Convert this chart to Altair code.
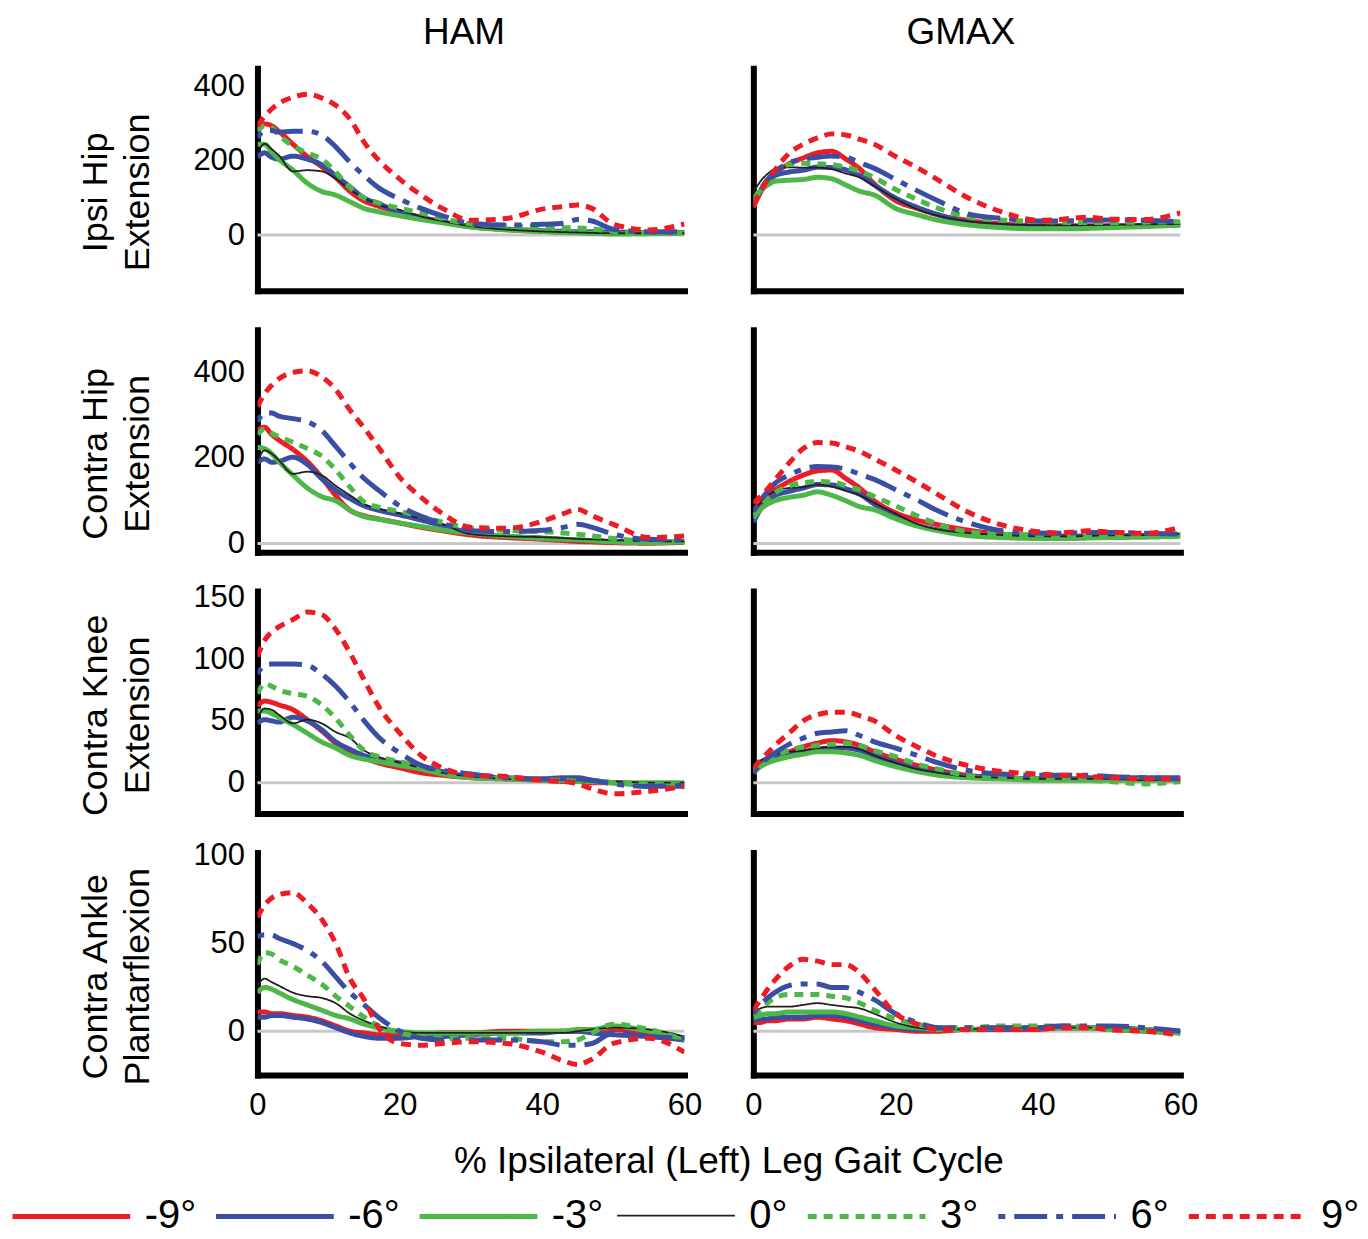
import altair as alt
import pandas as pd

# ---------------- data ----------------
X_PCT = [0, 1, 2, 3, 5, 7, 9, 11, 13, 15, 17, 20, 23, 26, 30, 35, 40, 43, 45, 47, 50, 55, 60]
ANGLES = ["-9°", "-6°", "-3°", "0°", "3°", "6°", "9°"]

ham_ipsi_hip = {
    "-9°": [285, 300, 295, 280, 245, 212, 185, 155, 118, 92, 78, 62, 48, 35, 24, 15, 10, 8, 7, 6, 5, 5, 7],
    "-6°": [210, 222, 210, 205, 213, 205, 190, 160, 130, 100, 85, 62, 48, 36, 22, 16, 12, 10, 9, 9, 8, 7, 7],
    "-3°": [245, 245, 225, 205, 175, 140, 118, 108, 90, 72, 63, 52, 42, 33, 22, 14, 10, 7, 6, 5, 3, 4, 6],
    "0°":  [220, 246, 232, 215, 172, 175, 172, 152, 122, 100, 82, 68, 50, 38, 24, 15, 10, 8, 7, 6, 5, 5, 5],
    "3°":  [280, 295, 290, 270, 240, 222, 205, 170, 128, 100, 87, 72, 60, 45, 30, 25, 22, 20, 19, 17, 10, 6, 5],
    "6°":  [262, 282, 282, 278, 280, 280, 270, 238, 196, 160, 128, 97, 72, 52, 32, 27, 29, 32, 42, 38, 16, 9, 9],
    "9°":  [295, 320, 340, 355, 372, 380, 370, 350, 313, 250, 203, 151, 108, 72, 40, 45, 70, 77, 81, 72, 30, 14, 30],
}
gmax_ipsi_hip = {
    "-9°": [75, 115, 145, 165, 192, 208, 222, 226, 205, 178, 138, 93, 72, 54, 40, 30, 25, 25, 25, 25, 25, 26, 28],
    "-6°": [85, 120, 145, 160, 170, 175, 183, 182, 176, 160, 135, 100, 75, 55, 35, 26, 23, 22, 22, 22, 23, 25, 28],
    "-3°": [90, 120, 135, 145, 148, 150, 156, 152, 135, 118, 108, 72, 55, 40, 28, 20, 17, 17, 17, 18, 20, 23, 27],
    "0°":  [115, 145, 165, 178, 183, 182, 182, 178, 166, 155, 132, 98, 70, 52, 38, 30, 27, 27, 27, 27, 28, 29, 30],
    "3°":  [95, 125, 150, 170, 190, 194, 192, 190, 183, 172, 155, 123, 96, 72, 50, 40, 37, 35, 34, 34, 34, 35, 36],
    "6°":  [85, 120, 150, 170, 195, 205, 210, 213, 210, 195, 180, 150, 120, 92, 58, 45, 38, 38, 39, 40, 41, 40, 36],
    "9°":  [85, 115, 150, 175, 220, 245, 262, 273, 270, 258, 245, 212, 182, 148, 102, 62, 40, 42, 46, 48, 43, 42, 60],
}
ham_contra_hip = {
    "-9°": [265, 272, 255, 242, 220, 192, 155, 112, 78, 65, 58, 48, 38, 30, 20, 14, 10, 7, 5, 4, 2, 1, 3],
    "-6°": [190, 198, 190, 192, 202, 185, 152, 125, 105, 88, 78, 67, 55, 42, 25, 17, 13, 10, 8, 7, 5, 4, 5],
    "-3°": [225, 222, 210, 192, 160, 130, 110, 100, 78, 63, 57, 48, 40, 32, 24, 17, 12, 10, 9, 7, 4, 2, 4],
    "0°":  [190, 218, 210, 195, 163, 168, 160, 135, 113, 92, 82, 71, 58, 45, 22, 17, 15, 13, 11, 10, 8, 6, 5],
    "3°":  [255, 268, 258, 250, 237, 222, 205, 172, 132, 97, 85, 75, 63, 50, 36, 31, 28, 25, 22, 18, 12, 6, 5],
    "6°":  [285, 305, 305, 298, 292, 285, 265, 227, 188, 152, 125, 88, 64, 47, 30, 28, 31, 38, 45, 38, 22, 10, 8],
    "9°":  [320, 350, 370, 385, 400, 404, 390, 360, 312, 270, 225, 155, 108, 70, 38, 36, 52, 70, 80, 65, 45, 14, 18],
}
gmax_contra_hip = {
    "-9°": [70, 95, 112, 125, 145, 160, 170, 172, 152, 129, 100, 72, 55, 44, 32, 22, 19, 18, 18, 18, 18, 19, 20],
    "-6°": [50, 80, 100, 112, 122, 130, 138, 137, 128, 115, 92, 63, 43, 32, 22, 17, 16, 16, 16, 17, 17, 18, 20],
    "-3°": [60, 80, 92, 100, 108, 113, 121, 113, 100, 86, 79, 58, 41, 30, 19, 14, 12, 12, 12, 13, 14, 15, 17],
    "0°":  [75, 95, 112, 122, 130, 132, 138, 133, 123, 112, 95, 70, 46, 33, 25, 20, 17, 17, 17, 18, 19, 20, 22],
    "3°":  [65, 85, 105, 118, 135, 142, 145, 144, 135, 125, 110, 88, 65, 45, 28, 22, 20, 18, 17, 17, 17, 18, 20],
    "6°":  [75, 100, 122, 140, 160, 174, 180, 179, 174, 162, 150, 126, 102, 76, 50, 30, 25, 24, 25, 26, 26, 24, 22],
    "9°":  [95, 110, 128, 148, 188, 222, 236, 235, 226, 215, 198, 172, 144, 114, 75, 43, 28, 25, 27, 30, 27, 24, 38],
}
ham_contra_knee = {
    "-9°": [62, 66, 65, 63, 59, 51, 42, 32, 25, 20, 16, 12, 8, 6, 4, 3, 2, 1, 1, 0, 0, -1, -1],
    "-6°": [48, 51, 50, 49, 53, 50, 43, 33, 27, 22, 19, 16, 12, 9, 5, 4, 3, 4, 4, 2, 0, -2, -3],
    "-3°": [58, 58, 56, 53, 47, 40, 33, 28, 22, 19, 17, 14, 11, 7, 4, 3, 2, 2, 1, 1, 0, 0, 0],
    "0°":  [52, 60, 59, 55, 48, 51, 48, 41, 36, 26, 21, 16, 12, 8, 5, 3, 2, 2, 1, 1, 1, 0, 0],
    "3°":  [72, 80, 78, 75, 72, 70, 63, 52, 38, 26, 21, 17, 12, 8, 5, 4, 3, 2, 2, 1, 0, -1, -1],
    "6°":  [88, 95, 96, 96, 96, 95, 88, 78, 65, 50, 37, 24, 14, 10, 7, 4, 3, 3, 3, 2, -1, -3, -2],
    "9°":  [102, 115, 122, 126, 132, 138, 136, 124, 105, 83, 62, 40, 22, 12, 6, 5, 2, 1, -1, -5, -9, -7, -3],
}
gmax_contra_knee = {
    "-9°": [10, 15, 19, 22, 25, 29, 32, 34, 33, 30, 25, 19, 14, 10, 6, 4, 3, 3, 3, 3, 3, 3, 3],
    "-6°": [8, 14, 18, 21, 23, 25, 27, 28, 28, 26, 22, 16, 11, 8, 5, 4, 3, 3, 3, 4, 4, 4, 4],
    "-3°": [8, 13, 16, 18, 21, 23, 25, 25, 24, 22, 18, 13, 9, 6, 4, 3, 2, 2, 2, 2, 2, 2, 2],
    "0°":  [14, 18, 21, 23, 25, 26, 28, 29, 29, 27, 22, 16, 11, 8, 5, 4, 3, 3, 3, 3, 3, 2, 2],
    "3°":  [10, 15, 19, 22, 26, 29, 30, 31, 32, 30, 26, 21, 15, 11, 6, 4, 3, 3, 3, 2, 1, -1, 1],
    "6°":  [8, 15, 20, 24, 31, 36, 40, 41, 42, 38, 33, 28, 22, 16, 10, 7, 6, 6, 6, 6, 5, 4, 3],
    "9°":  [12, 18, 24, 30, 40, 50, 55, 57, 57, 54, 50, 38, 29, 21, 14, 9, 7, 6, 6, 5, 4, 3, 3],
}
ham_contra_ankle = {
    "-9°": [11, 11, 10, 10, 9, 8, 6, 3, 0, -1, -2, -2, -2, -1, -1, 0, 0, 0, 0, 0, 1, -2, -5],
    "-6°": [8, 8, 9, 9, 8, 7, 5, 2, -1, -3, -4, -4, -3, -3, -2, -1, -1, 0, 0, -1, -2, -3, -5],
    "-3°": [22, 25, 24, 22, 18, 15, 12, 9, 7, 4, 2, 0, -1, -1, -1, -1, 0, 0, 1, 1, 3, 0, -4],
    "0°":  [26, 30, 28, 26, 22, 20, 19, 16, 10, 6, 3, 0, -1, -1, -1, -1, -1, -1, 0, 1, 2, 1, -3],
    "3°":  [38, 45, 44, 41, 37, 32, 27, 20, 14, 8, 3, -1, -3, -4, -4, -4, -6, -6, -5, -1, 4, 1, -5],
    "6°":  [54, 55, 55, 53, 50, 46, 40, 31, 22, 15, 8, 0, -4, -5, -5, -5, -6, -8, -8, -7, -1, -3, -4],
    "9°":  [65, 72, 76, 78, 79, 73, 64, 50, 30, 18, 2, -7, -8, -7, -6, -7, -12, -17, -19, -16, -7, -4, -12],
}
gmax_contra_ankle = {
    "-9°": [5, 5, 6, 6, 7, 7, 8, 7, 6, 4, 2, 1, 0, 0, 1, 1, 1, 2, 2, 2, 1, 0, -1],
    "-6°": [6, 7, 7, 8, 8, 8, 9, 9, 8, 6, 4, 2, 1, 1, 1, 1, 2, 2, 2, 2, 2, 1, 0],
    "-3°": [8, 9, 10, 10, 11, 11, 11, 11, 10, 8, 6, 3, 2, 1, 1, 2, 2, 2, 2, 2, 1, 1, 0],
    "0°":  [11, 13, 14, 14, 14, 15, 16, 15, 14, 13, 10, 5, 2, 1, 1, 2, 2, 2, 2, 2, 2, 1, 0],
    "3°":  [9, 12, 16, 19, 21, 21, 21, 20, 19, 16, 12, 7, 4, 2, 2, 3, 3, 3, 3, 2, 1, 0, -1],
    "6°":  [10, 15, 19, 22, 26, 27, 27, 25, 25, 22, 18, 10, 5, 2, 2, 2, 2, 3, 3, 3, 3, 2, 0],
    "9°":  [12, 18, 24, 29, 37, 41, 40, 38, 38, 33, 24, 10, 4, 1, 1, 1, 1, 2, 2, 2, 1, 0, -2],
}

MUSCLES = ["HAM", "GMAX"]
ROW_TITLES = [["Ipsi Hip", "Extension"], ["Contra Hip", "Extension"],
              ["Contra Knee", "Extension"], ["Contra Ankle", "Plantarflexion"]]
Y_DOMAINS = [[-150, 450], [-20, 500], [-25, 155], [-25, 102]]
Y_TICKS = [[0, 200, 400], [0, 200, 400], [0, 50, 100, 150], [0, 50, 100]]
X_TICKS = [0, 20, 40, 60]
PANELS = [[ham_ipsi_hip, gmax_ipsi_hip], [ham_contra_hip, gmax_contra_hip],
          [ham_contra_knee, gmax_contra_knee], [ham_contra_ankle, gmax_contra_ankle]]
X_TITLE = "% Ipsilateral (Left) Leg Gait Cycle"

# ---------------- styles ----------------
RED, BLUE, GREEN, BLACK = "#ED1C24", "#3A4FA3", "#4DB848", "#231F20"
COLORS = [RED, BLUE, GREEN, BLACK, GREEN, BLUE, RED]
DASHES = [[1, 0], [1, 0], [1, 0], [1, 0], [9, 7], [7, 9, 33, 9], [10, 7]]
WIDTHS = [5, 5, 5, 1.8, 5, 5, 5]
FONT = "Liberation Sans"
W, H = 428, 223


def panel(r, c):
    data = PANELS[r][c]
    rows = []
    for a in ANGLES:
        for x, v in zip(X_PCT, data[a]):
            rows.append({"x": x, "v": v, "angle": a})
    df = pd.DataFrame(rows)

    ysc = alt.Scale(domain=Y_DOMAINS[r], nice=False, zero=False)
    xsc = alt.Scale(domain=[0, 60], nice=False)

    if c == 0:
        yaxis = alt.Axis(values=Y_TICKS[r], title=ROW_TITLES[r], labelFontSize=31,
                         labelPadding=13, labelFlush=False, titleFontSize=36, titleLineHeight=43,
                         titlePadding=36, titleY=124, titleFontWeight="normal")
    else:
        yaxis = alt.Axis(values=Y_TICKS[r], labels=False, title=None)

    if r == 3:
        if c == 0:
            xaxis = alt.Axis(values=X_TICKS, labelFontSize=31, labelPadding=16, labelFlush=False,
                             title=X_TITLE, titleFontSize=37, titleFontWeight="normal",
                             titleX=472, titlePadding=23)
        else:
            xaxis = alt.Axis(values=X_TICKS, labelFontSize=31, labelPadding=16, labelFlush=False,
                             title=None)
    else:
        xaxis = alt.Axis(values=X_TICKS, labels=False, title=None)

    if r == 0 and c == 0:
        leg = alt.Legend(title=None, orient="none", legendX=-248, legendY=1089,
                         direction="horizontal", columns=7, symbolType="stroke",
                         symbolSize=13924, labelFontSize=40, labelOffset=12,
                         columnPadding=9, labelColor="black", padding=0)
    else:
        leg = None

    zero = alt.Chart(pd.DataFrame({"v": [0]})).mark_rule(
        color="#C8C8C8", strokeWidth=3
    ).encode(y=alt.Y("v:Q", scale=ysc, axis=yaxis))

    lines = alt.Chart(df).mark_line(interpolate="monotone", clip=True).encode(
        x=alt.X("x:Q", scale=xsc, axis=xaxis),
        y=alt.Y("v:Q", scale=ysc, axis=yaxis),
        color=alt.Color("angle:N", scale=alt.Scale(type="ordinal", domain=ANGLES, range=COLORS), legend=leg),
        strokeDash=alt.StrokeDash("angle:N", scale=alt.Scale(type="ordinal", domain=ANGLES, range=DASHES), legend=leg),
        strokeWidth=alt.StrokeWidth("angle:N", scale=alt.Scale(type="ordinal", domain=ANGLES, range=WIDTHS), legend=leg),
    )
    ch = alt.layer(zero, lines).properties(width=W, height=H)
    if r == 0:
        ch = ch.properties(title=alt.TitleParams(MUSCLES[c], fontSize=37, fontWeight="normal",
                                                 frame="group", offset=16,
                                                 dx=-7 if c == 0 else -6, color="black"))
    return ch


charts = [panel(r, c) for r in range(4) for c in range(2)]

chart = alt.concat(*charts, columns=2, spacing={"row": 39, "column": 69}, bounds="flush").properties(
    padding={"left": 2, "top": 5, "right": 0, "bottom": 0}
).configure(font=FONT).configure_view(stroke=None).configure_axis(
    domainColor="black", domainWidth=6, domainCap="square", ticks=False, tickSize=0,
    grid=False, labelColor="black", titleColor="black", labelFont=FONT, titleFont=FONT
).configure_legend(labelFont=FONT)

chart.save("out.html", embed_options={"renderer": "svg", "actions": False})
